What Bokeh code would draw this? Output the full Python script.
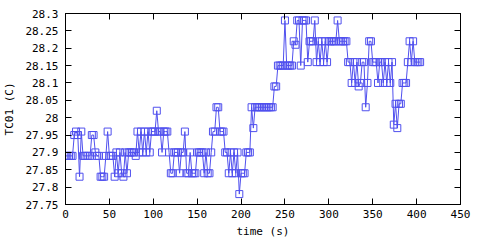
from bokeh.plotting import figure
from bokeh.models import LinearAxis, FixedTicker, CustomJSTickFormatter, ColumnDataSource
from bokeh.embed import file_html
from bokeh.resources import INLINE

time_s = [
    0, 2, 4, 6, 8, 10, 12, 14, 16, 18,
    20, 22, 24, 26, 28, 30, 32, 34, 36, 38,
    40, 42, 44, 46, 48, 50, 52, 54, 56, 58,
    60, 62, 64, 66, 68, 70, 72, 74, 76, 78,
    80, 82, 84, 86, 88, 90, 92, 94, 96, 98,
    100, 102, 104, 106, 108, 110, 112, 114, 116, 118,
    120, 122, 124, 126, 128, 130, 132, 134, 136, 138,
    140, 142, 144, 146, 148, 150, 152, 154, 156, 158,
    160, 162, 164, 166, 168, 170, 172, 174, 176, 178,
    180, 182, 184, 186, 188, 190, 192, 194, 196, 198,
    200, 202, 204, 206, 208, 210, 212, 214, 216, 218,
    220, 222, 224, 226, 228, 230, 232, 234, 236, 238,
    240, 242, 244, 246, 248, 250, 252, 254, 256, 258,
    260, 262, 264, 266, 268, 270, 272, 274, 276, 278,
    280, 282, 284, 286, 288, 290, 292, 294, 296, 298,
    300, 302, 304, 306, 308, 310, 312, 314, 316, 318,
    320, 322, 324, 326, 328, 330, 332, 334, 336, 338,
    340, 342, 344, 346, 348, 350, 352, 354, 356, 358,
    360, 362, 364, 366, 368, 370, 372, 374, 376, 378,
    380, 382, 384, 386, 388, 390, 392, 394, 396, 398,
    400, 402, 404,
]

tc01 = [
    27.89, 27.89, 27.89, 27.89, 27.89, 27.95, 27.96, 27.95, 27.83, 27.96,
    27.89, 27.89, 27.89, 27.89, 27.89, 27.95, 27.95, 27.90, 27.89, 27.89,
    27.83, 27.83, 27.83, 27.89, 27.96, 27.89, 27.89, 27.89, 27.83, 27.90,
    27.84, 27.90, 27.84, 27.83, 27.90, 27.84, 27.90, 27.90, 27.90, 27.90,
    27.89, 27.96, 27.90, 27.96, 27.90, 27.96, 27.90, 27.96, 27.90, 27.96,
    27.96, 27.96, 28.02, 27.96, 27.96, 27.90, 27.96, 27.96, 27.96, 27.90,
    27.84, 27.84, 27.90, 27.90, 27.90, 27.84, 27.90, 27.90, 27.96, 27.84,
    27.84, 27.90, 27.84, 27.84, 27.84, 27.90, 27.90, 27.90, 27.90, 27.84,
    27.90, 27.84, 27.84, 27.90, 27.96, 27.96, 28.03, 28.03, 27.96, 27.96,
    27.96, 27.90, 27.90, 27.84, 27.90, 27.84, 27.90, 27.84, 27.90, 27.78,
    27.84, 27.84, 27.84, 27.90, 27.90, 27.90, 28.03, 27.97, 28.03, 28.03,
    28.03, 28.03, 28.03, 28.03, 28.03, 28.03, 28.03, 28.03, 28.03, 28.09,
    28.09, 28.15, 28.15, 28.15, 28.15, 28.28, 28.15, 28.15, 28.15, 28.15,
    28.22, 28.21, 28.28, 28.28, 28.15, 28.28, 28.28, 28.28, 28.16, 28.22,
    28.22, 28.22, 28.28, 28.16, 28.22, 28.16, 28.22, 28.16, 28.22, 28.16,
    28.22, 28.22, 28.22, 28.22, 28.22, 28.28, 28.22, 28.22, 28.22, 28.22,
    28.22, 28.16, 28.16, 28.10, 28.16, 28.10, 28.16, 28.09, 28.10, 28.16,
    28.16, 28.03, 28.10, 28.22, 28.22, 28.16, 28.16, 28.16, 28.10, 28.16,
    28.16, 28.10, 28.16, 28.10, 28.16, 28.10, 28.16, 27.98, 28.04, 27.97,
    28.04, 28.04, 28.10, 28.10, 28.10, 28.16, 28.22, 28.16, 28.22, 28.16,
    28.16, 28.16, 28.16,
]

x_ticks = [0, 50, 100, 150, 200, 250, 300, 350, 400, 450]
y_ticks = [27.75, 27.8, 27.85, 27.9, 27.95, 28.0, 28.05, 28.1, 28.15, 28.2, 28.25, 28.3]
y_tick_labels = ["27.75", "27.8", "27.85", "27.9", "27.95", "28", "28.05",
                 "28.1", "28.15", "28.2", "28.25", "28.3"]

FONT = "DejaVu Sans Mono"
FS = "11px"
COLOR = "#5050ee"

src = ColumnDataSource(dict(t=time_s, v=tc01))

p = figure(width=480, height=240, output_backend="svg", toolbar_location=None,
           x_range=(0, 450), y_range=(27.75, 28.3),
           min_border_left=65, min_border_right=20, min_border_top=13, min_border_bottom=34)
p.grid.visible = False
p.outline_line_color = "black"
p.outline_line_width = 1
p.background_fill_color = "white"
p.border_fill_color = "white"

p.line("t", "v", source=src, line_color=COLOR, line_width=1)
p.scatter("t", "v", source=src, marker="square", size=7, fill_color=None,
          line_color=COLOR, line_width=1)

def style(ax, labels=True):
    ax.major_tick_in = 6
    ax.major_tick_out = 0
    ax.minor_tick_in = 0
    ax.minor_tick_out = 0
    ax.axis_line_color = "black"
    ax.major_tick_line_color = "black"
    ax.major_label_text_font = FONT
    ax.major_label_text_font_size = FS
    ax.major_label_text_color = "black"
    ax.axis_label_text_font = FONT
    ax.axis_label_text_font_size = FS
    ax.axis_label_text_font_style = "normal"
    ax.axis_label_text_color = "black"
    if not labels:
        ax.formatter = CustomJSTickFormatter(code="return '';")
        ax.major_label_standoff = 0

xa = p.xaxis[0]
xa.ticker = FixedTicker(ticks=x_ticks)
xa.axis_label = "time (s)"
style(xa)
xa.major_label_standoff = 5
xa.axis_label_standoff = 4

ya = p.yaxis[0]
ya.ticker = FixedTicker(ticks=y_ticks)
ya.major_label_overrides = {t: l for t, l in zip(y_ticks, y_tick_labels)}
ya.axis_label = "TC01 (C)"
style(ya)
ya.major_label_standoff = 7
ya.axis_label_standoff = 6

top = LinearAxis(ticker=FixedTicker(ticks=x_ticks))
style(top, labels=False)
p.add_layout(top, "above")
right = LinearAxis(ticker=FixedTicker(ticks=y_ticks))
style(right, labels=False)
p.add_layout(right, "right")

open("out.html", "w").write(file_html(p, INLINE))
